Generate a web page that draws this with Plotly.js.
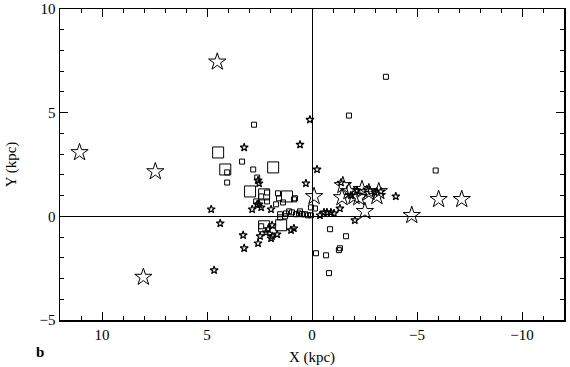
<!DOCTYPE html>
<html>
<head>
<meta charset="utf-8">
<script src="https://cdn.plot.ly/plotly-3.0.1.min.js"></script>
<style>html,body{margin:0;padding:0;background:#fff;}#chart{width:570px;height:367px;}</style>
</head>
<body>
<div id="chart"></div>
<script>
// Large open stars
const bigStarX = [4.51, 11.07, 7.46, 8.03, -0.10, -1.47, -1.43, -2.00, -2.23, -2.71, -3.09, -3.18, -2.52, -4.75, -6.03, -7.13, -1.76, -2.38];
const bigStarY = [7.45, 3.08, 2.16, -2.93, 0.96, 1.49, 0.91, 0.96, 0.91, 1.15, 0.96, 1.20, 0.24, 0.05, 0.82, 0.82, 1.20, 1.30];

// Small stars
const smallStarX = [0.10, 0.57, 3.23, -0.24, 0.29, 4.80, 2.85, 2.42, 1.95, 4.37, 3.28, 2.47, 2.57, 3.23, 1.95, 1.66, 1.00, 0.86, 2.57, 2.52, 4.66, 2.61, -1.33, -2.04, -3.99, -1.38, -0.38, -0.57, -0.71, -0.90, -1.05, -2.14, -2.61, -2.99, -3.28, -1.85, 1.90, 2.09, 2.19, 1.90, 2.52];
const smallStarY = [4.66, 3.46, 3.32, 2.26, 1.59, 0.34, 0.34, 0.43, 0.34, -0.34, -0.91, -0.96, -1.30, -1.54, -1.06, -0.87, -0.67, -0.58, 1.73, 1.59, -2.60, 0.58, 0.38, -0.19, 0.96, 1.63, 0.05, 0.19, 0.19, 0.19, 0.14, 1.25, 1.30, 1.15, 1.20, 1.01, -0.43, -0.62, -0.77, -0.96, 0.58];

// Small open squares
const smallSqX = [-3.52, 2.76, -1.76, -5.89, 3.33, 2.80, 4.04, 4.04, 2.61, 2.14, 1.62, 1.57, 0.81, 1.71, 2.14, 2.66, 0.95, 0.76, 0.05, -0.14, -0.86, -0.19, -0.67, -0.81, -1.28, -1.62, -1.33, 1.52, 2.42, 0.62, 0.48, 0.33, 0.19, 0.05, 0.57, 1.09, 1.24, 2.42, 1.38, 0.86, 1.52, 1.28];
const smallSqY = [6.73, 4.42, 4.86, 2.21, 2.64, 2.26, 2.12, 1.63, 1.87, 1.15, 1.11, 0.87, 0.87, 0.58, 0.72, 0.72, 0.19, 0.10, 0.43, 0.38, -0.62, -1.78, -1.88, -2.74, -1.63, -0.96, -1.54, -0.05, -0.48, 0.14, 0.10, 0.10, 0.05, 0.05, 0.24, 0.24, 0.14, 0.96, 0.67, 0.82, 0.10, 0.00];

// Large open squares
const bigSqX = [4.47, 4.13, 1.85, 2.95, 2.28, 1.19, 2.28, 1.47];
const bigSqY = [3.08, 2.26, 2.36, 1.20, 1.06, 0.96, -0.48, -0.43];

const xTickVals = [10, 5, 0, -5, -10];
const xTickText = ['10', '5', '0', '\u22125', '\u221210'];
const yTickVals = [-5, 0, 5, 10];
const yTickText = ['\u22125', '0', '5', '10'];

const fontFam = 'Liberation Serif, Times New Roman, serif';

const traces = [
  {x: smallSqX, y: smallSqY, mode: 'markers', type: 'scatter',
   marker: {symbol: 'square-open', size: 5, color: '#000', line: {width: 1, color: '#000'}}},
  {x: bigSqX, y: bigSqY, mode: 'markers', type: 'scatter',
   marker: {symbol: 'square-open', size: 11, color: '#000', line: {width: 1, color: '#000'}}},
  {x: smallStarX, y: smallStarY, mode: 'markers', type: 'scatter',
   marker: {symbol: 'star-open', size: 6, color: '#000', line: {width: 1.2, color: '#000'}}},
  {x: bigStarX, y: bigStarY, mode: 'markers', type: 'scatter',
   marker: {symbol: 'star-open', size: 13, color: '#000', line: {width: 1, color: '#000'}}}
];

const axisCommon = {
  showline: true, linecolor: '#000', linewidth: 1.5, mirror: 'ticks',
  ticks: 'inside', ticklen: 8, tickwidth: 1, tickcolor: '#000',
  showgrid: false, zeroline: true, zerolinecolor: '#000', zerolinewidth: 1,
  tickfont: {family: fontFam, size: 15, color: '#000'},
  minor: {dtick: 1, ticks: 'inside', ticklen: 4, tickcolor: '#000', tickwidth: 1, showgrid: false}
};

const layout = {
  width: 570, height: 367,
  margin: {l: 60, r: 6, t: 9, b: 47},
  paper_bgcolor: '#fff', plot_bgcolor: '#fff',
  showlegend: false,
  xaxis: Object.assign({}, axisCommon, {
    range: [12, -12], tickvals: xTickVals, ticktext: xTickText,
    title: {text: 'X (kpc)', font: {family: fontFam, size: 15, color: '#000'}, standoff: 10}
  }),
  yaxis: Object.assign({}, axisCommon, {
    range: [-5, 10], tickvals: yTickVals, ticktext: yTickText,
    title: {text: 'Y (kpc)', font: {family: fontFam, size: 15, color: '#000'}, standoff: 19}
  }),
  annotations: [{
    text: '<b>b</b>', xref: 'paper', yref: 'paper', x: -0.04, y: -0.104,
    xanchor: 'center', yanchor: 'middle', showarrow: false,
    font: {family: fontFam, size: 15, color: '#000'}
  }]
};

Plotly.newPlot('chart', traces, layout, {staticPlot: true, displayModeBar: false});
</script>
</body>
</html>
